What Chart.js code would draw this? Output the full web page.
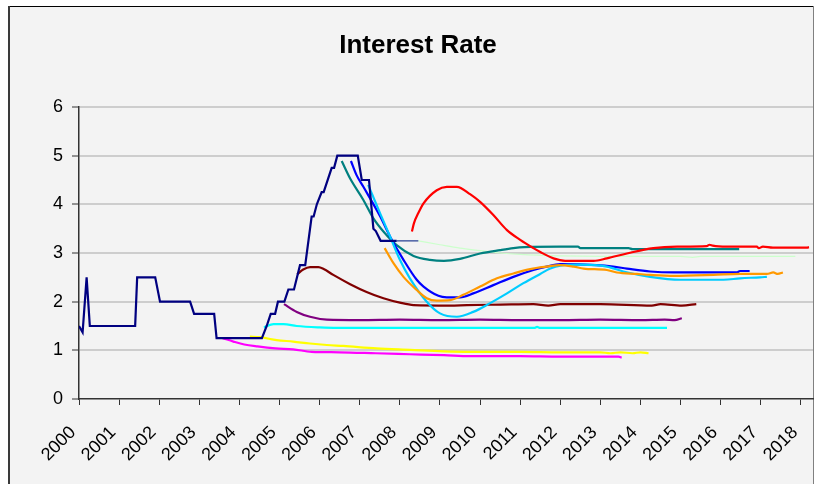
<!DOCTYPE html>
<html>
<head>
<meta charset="utf-8">
<title>Interest Rate</title>
<script src="https://cdn.jsdelivr.net/npm/chart.js@4/dist/chart.umd.min.js"></script>
<style>
  html, body { margin: 0; padding: 0; background: #ffffff; }
  #wrap { position: relative; width: 814px; height: 484px; }
  canvas { display: block; }
</style>
</head>
<body>
<div id="wrap"><canvas id="chart" width="814" height="484"></canvas></div>
<script>
// ---- Data: decimal years and rates (%) ----
const chartTitle = 'Interest Rate';
const yearTicks = [2000, 2001, 2002, 2003, 2004, 2005, 2006, 2007, 2008, 2009,
                   2010, 2011, 2012, 2013, 2014, 2015, 2016, 2017, 2018];
const rateTicks = [0, 1, 2, 3, 4, 5, 6];

// Actual policy rate
const policyYears = [2000.00, 2000.09, 2000.19, 2000.27, 2001.40, 2001.45, 2001.90, 2002.02,
                     2002.77, 2002.87, 2003.37, 2003.43, 2004.56, 2004.68, 2004.78, 2004.89,
                     2004.96, 2005.12, 2005.22, 2005.36, 2005.51, 2005.64, 2005.80, 2005.85,
                     2005.93, 2006.05, 2006.10, 2006.30, 2006.36, 2006.44, 2006.95, 2007.05,
                     2007.23, 2007.34, 2007.40, 2007.52, 2007.92];
const policyRate  = [1.50, 1.37, 2.50, 1.50, 1.50, 2.50, 2.50, 2.00,
                     2.00, 1.75, 1.75, 1.25, 1.25, 1.50, 1.75, 1.75,
                     2.00, 2.00, 2.25, 2.25, 2.75, 2.75, 3.75, 3.75,
                     4.00, 4.25, 4.25, 4.75, 4.75, 5.00, 5.00, 4.50,
                     4.50, 3.50, 3.45, 3.25, 3.25];

const latestYears = [2007.92, 2008.46];
const latestRate  = [3.25, 3.25];

// Forecast paths
const magentaYears = [2003.58, 2003.85, 2004.12, 2004.45, 2004.90, 2005.34, 2005.80, 2006.50,
                      2007.40, 2008.25, 2009.10, 2009.75, 2011.00, 2012.00, 2013.00, 2013.45, 2013.53];
const magentaRate  = [1.25, 1.18, 1.12, 1.08, 1.04, 1.02, 0.97, 0.96,
                      0.94, 0.92, 0.90, 0.88, 0.88, 0.87, 0.87, 0.87, 0.85];

const yellowYears = [2004.26, 2004.51, 2004.93, 2005.34, 2005.76, 2006.18, 2006.59, 2007.42,
                     2008.25, 2009.08, 2009.75, 2011.00, 2012.00, 2013.00, 2013.25, 2013.50,
                     2013.80, 2014.00, 2014.20];
const yellowRate  = [1.28, 1.27, 1.21, 1.18, 1.14, 1.11, 1.09, 1.04,
                     1.01, 0.98, 0.97, 0.97, 0.96, 0.96, 0.94, 0.96,
                     0.94, 0.96, 0.94];

const cyanYears = [2004.61, 2004.85, 2005.10, 2005.43, 2006.00, 2006.43, 2008.00, 2010.00,
                   2011.35, 2011.42, 2011.50, 2013.00, 2014.66];
const cyanRate  = [1.47, 1.54, 1.54, 1.50, 1.47, 1.46, 1.46, 1.46,
                   1.46, 1.48, 1.46, 1.46, 1.46];

const purpleYears = [2005.11, 2005.43, 2005.76, 2006.18, 2007.00, 2008.00, 2009.00, 2010.00,
                     2011.00, 2012.00, 2013.00, 2014.00, 2014.60, 2014.85, 2015.03];
const purpleRate  = [1.95, 1.79, 1.69, 1.63, 1.62, 1.63, 1.62, 1.63,
                     1.62, 1.62, 1.63, 1.62, 1.63, 1.62, 1.66];

const maroonYears = [2005.44, 2005.59, 2005.76, 2005.97, 2006.10, 2006.34, 2006.76, 2007.17,
                     2007.59, 2008.00, 2008.34, 2009.25, 2009.67, 2010.50, 2011.33, 2011.70,
                     2012.00, 2013.00, 2014.28, 2014.50, 2015.03, 2015.39];
const maroonRate  = [2.56, 2.66, 2.71, 2.71, 2.67, 2.55, 2.36, 2.20,
                     2.07, 1.98, 1.93, 1.92, 1.93, 1.94, 1.95, 1.92,
                     1.95, 1.95, 1.92, 1.95, 1.92, 1.95];

const tealYears = [2006.55, 2006.76, 2007.09, 2007.34, 2007.59, 2007.92, 2008.34, 2008.75,
                   2009.10, 2009.50, 2010.00, 2010.50, 2010.83, 2011.10, 2012.00, 2012.44,
                   2012.50, 2013.70, 2013.80, 2016.46];
const tealRate  = [4.89, 4.53, 4.09, 3.71, 3.44, 3.16, 2.94, 2.86,
                   2.84, 2.88, 2.99, 3.06, 3.10, 3.12, 3.13, 3.13,
                   3.10, 3.10, 3.08, 3.08];

const blueYears = [2006.78, 2006.92, 2007.09, 2007.51, 2007.76, 2008.09, 2008.42, 2008.59,
                   2008.96, 2009.17, 2009.50, 2009.83, 2010.33, 2010.83, 2011.33, 2011.66,
                   2012.00, 2012.91, 2013.32, 2013.66, 2014.24, 2014.82, 2015.65, 2016.40,
                   2016.48, 2016.72];
const blueRate  = [4.89, 4.60, 4.36, 3.75, 3.33, 2.86, 2.45, 2.31,
                   2.12, 2.09, 2.09, 2.17, 2.34, 2.51, 2.65, 2.72,
                   2.77, 2.75, 2.72, 2.68, 2.62, 2.60, 2.60, 2.60,
                   2.63, 2.63];

const skyYears = [2007.21, 2007.51, 2007.76, 2008.00, 2008.25, 2008.67, 2009.00, 2009.42,
                  2009.83, 2010.25, 2010.67, 2011.08, 2011.50, 2011.75, 2012.00, 2012.50,
                  2013.16, 2013.57, 2014.24, 2014.99, 2016.07, 2016.48, 2016.98, 2017.15];
const skyRate  = [4.40, 3.81, 3.33, 2.86, 2.48, 2.00, 1.76, 1.69,
                  1.79, 1.97, 2.17, 2.38, 2.57, 2.68, 2.74, 2.76,
                  2.72, 2.62, 2.51, 2.45, 2.45, 2.48, 2.50, 2.51];

const orangeYears = [2007.62, 2007.84, 2008.09, 2008.42, 2008.67, 2008.92, 2009.25, 2009.58,
                     2010.00, 2010.42, 2010.83, 2011.25, 2011.66, 2012.00, 2012.33, 2012.58,
                     2013.16, 2013.41, 2013.91, 2014.24, 2014.82, 2015.82, 2016.48, 2017.15,
                     2017.31, 2017.42, 2017.55];
const orangeRate  = [3.10, 2.79, 2.51, 2.24, 2.07, 2.02, 2.03, 2.14,
                     2.31, 2.48, 2.58, 2.67, 2.72, 2.75, 2.72, 2.68,
                     2.65, 2.60, 2.57, 2.55, 2.53, 2.55, 2.57, 2.57,
                     2.60, 2.57, 2.60];

const redYears = [2008.30, 2008.35, 2008.46, 2008.59, 2008.92, 2009.17, 2009.42, 2009.75,
                  2010.00, 2010.33, 2010.67, 2011.00, 2011.33, 2011.50, 2011.83, 2012.12,
                  2012.83, 2013.16, 2013.66, 2014.32, 2014.91, 2015.65, 2015.72, 2015.80,
                  2016.15, 2016.90, 2016.95, 2017.05, 2017.30, 2018.15, 2018.20];
const redRate  = [3.44, 3.61, 3.82, 4.02, 4.29, 4.36, 4.36, 4.21,
                  4.05, 3.78, 3.47, 3.27, 3.10, 3.02, 2.89, 2.84,
                  2.84, 2.89, 2.99, 3.10, 3.13, 3.14, 3.17, 3.15,
                  3.13, 3.13, 3.10, 3.13, 3.11, 3.11, 3.12];

const paleYears = [2008.46, 2009.00, 2009.50, 2010.00, 2010.50, 2011.00, 2012.00, 2013.00,
                   2014.00, 2015.00, 2015.30, 2015.50, 2016.00, 2017.00, 2017.86];
const paleRate  = [3.25, 3.17, 3.10, 3.05, 3.00, 2.97, 2.94, 2.93,
                   2.93, 2.93, 2.91, 2.93, 2.93, 2.93, 2.93];

// ---- Build datasets ----
function points(xs, ys) {
  return xs.map((x, i) => ({ x: x, y: ys[i] }));
}
function line(xs, ys, color, width, smooth) {
  return {
    data: points(xs, ys),
    borderColor: color,
    backgroundColor: color,
    borderWidth: width,
    pointRadius: 0,
    fill: false,
    tension: 0,
    cubicInterpolationMode: smooth ? 'monotone' : 'default'
  };
}

// First dataset is painted last (on top)
const datasets = [
  line(policyYears, policyRate, '#000080', 2.2, false),
  line(latestYears, latestRate, '#5468a8', 1.6, false),
  line(redYears, redRate, '#ff0000', 2.2, true),
  line(orangeYears, orangeRate, '#ff9900', 2.2, true),
  line(skyYears, skyRate, '#00ccff', 2.2, true),
  line(blueYears, blueRate, '#0000ff', 2.2, true),
  line(tealYears, tealRate, '#008080', 2.2, true),
  line(paleYears, paleRate, '#ccffcc', 1.2, true),
  line(maroonYears, maroonRate, '#800000', 2.2, true),
  line(purpleYears, purpleRate, '#800080', 2.2, true),
  line(cyanYears, cyanRate, '#00ffff', 2.2, true),
  line(yellowYears, yellowRate, '#ffff00', 2.2, true),
  line(magentaYears, magentaRate, '#ff00ff', 2.2, true)
];

const FONT = "'Liberation Sans', Arial, Helvetica, sans-serif";

// Grey panel with a dark frame behind everything, and the heading on top
const framePlugin = {
  id: 'frame',
  beforeDraw(chart) {
    const ctx = chart.ctx;
    ctx.save();
    ctx.fillStyle = '#ffffff';
    ctx.fillRect(0, 0, chart.width, chart.height);
    ctx.fillStyle = '#f3f3f3';
    ctx.fillRect(8, 7, 806, chart.height - 7);
    ctx.fillStyle = '#000000';
    ctx.fillRect(8, 6, 806, 1);
    ctx.fillStyle = '#3a3a3a';
    ctx.fillRect(8, 6, 2, chart.height - 6);
    ctx.fillStyle = '#808080';
    ctx.fillRect(813, 6, 1, chart.height - 6);
    ctx.restore();
  },
  afterDraw(chart) {
    const ctx = chart.ctx;
    ctx.save();
    ctx.font = 'bold 26px ' + FONT;
    ctx.fillStyle = '#000000';
    ctx.textAlign = 'center';
    ctx.textBaseline = 'alphabetic';
    ctx.fillText(chartTitle, 418, 53);
    ctx.restore();
  }
};

new Chart(document.getElementById('chart'), {
  type: 'line',
  data: { datasets: datasets },
  plugins: [framePlugin],
  options: {
    responsive: false,
    animation: false,
    devicePixelRatio: 1,
    layout: { padding: { left: 0, right: 1, top: 107, bottom: 0 } },
    plugins: {
      legend: { display: false },
      tooltip: { enabled: false },
      title: { display: false }
    },
    scales: {
      x: {
        type: 'linear',
        min: yearTicks[0],
        max: 2018.3,
        afterBuildTicks(scale) {
          scale.ticks = yearTicks.map(v => ({ value: v }));
        },
        afterFit(scale) {
          scale.height = 85;
          scale.paddingLeft = 0;
          scale.paddingRight = 0;
        },
        ticks: {
          autoSkip: false,
          maxRotation: 45,
          minRotation: 45,
          padding: 17,
          labelOffset: -6,
          color: '#000000',
          font: { family: FONT, size: 18 },
          callback: v => String(v)
        },
        grid: {
          drawOnChartArea: false,
          drawTicks: true,
          tickLength: 6,
          tickColor: '#333333',
          tickWidth: 1
        },
        border: { display: true, color: '#333333', width: 1.5 }
      },
      y: {
        min: rateTicks[0],
        max: rateTicks[rateTicks.length - 1],
        afterBuildTicks(scale) {
          scale.ticks = rateTicks.map(v => ({ value: v }));
        },
        afterFit(scale) {
          scale.width = 79;
          scale.paddingTop = 0;
          scale.paddingBottom = 0;
        },
        ticks: {
          padding: 9,
          color: '#000000',
          font: { family: FONT, size: 18 },
          callback: v => String(v)
        },
        grid: {
          color: ctx => (ctx.tick && ctx.tick.value === 0) ? 'rgba(0,0,0,0)' : '#cdcdcd',
          lineWidth: 2,
          drawTicks: true,
          tickLength: 7,
          tickColor: '#333333',
          tickWidth: 1
        },
        border: { display: true, color: '#333333', width: 1.5 }
      }
    }
  }
});
</script>
</body>
</html>
